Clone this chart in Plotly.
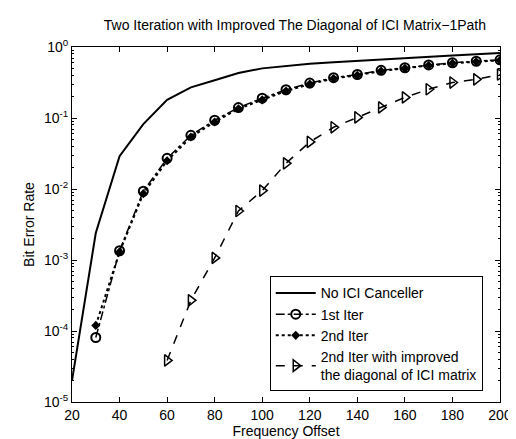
import plotly.graph_objects as go

x_none = [20, 30, 40, 50, 60, 70, 80, 90, 100, 110, 120, 130, 140, 150, 160, 170, 180, 190, 200]
ber_none = [2.0e-5, 2.4e-3, 2.9e-2, 8.2e-2, 0.18, 0.27, 0.34, 0.43, 0.50, 0.54, 0.58, 0.61, 0.64, 0.67, 0.70, 0.73, 0.76, 0.79, 0.82]

x_iter = [30, 40, 50, 60, 70, 80, 90, 100, 110, 120, 130, 140, 150, 160, 170, 180, 190, 200]
ber_1st = [8.1e-5, 1.35e-3, 9.3e-3, 2.7e-2, 0.057, 0.093, 0.14, 0.19, 0.25, 0.31, 0.37, 0.41, 0.47, 0.51, 0.56, 0.60, 0.63, 0.66]
ber_2nd = [1.2e-4, 1.3e-3, 8.6e-3, 2.5e-2, 0.054, 0.088, 0.135, 0.18, 0.24, 0.30, 0.36, 0.40, 0.46, 0.50, 0.55, 0.59, 0.62, 0.65]

x_impr = [60, 70, 80, 90, 100, 110, 120, 130, 140, 150, 160, 170, 180, 190, 200]
ber_impr = [3.85e-5, 2.7e-4, 1.07e-3, 4.9e-3, 9.5e-3, 2.3e-2, 4.6e-2, 7.4e-2, 0.102, 0.141, 0.195, 0.254, 0.316, 0.35, 0.41]

x_ticks = [20, 40, 60, 80, 100, 120, 140, 160, 180, 200]
y_ticks = [1e-5, 1e-4, 1e-3, 1e-2, 1e-1, 1]
y_ticktext = ["10<sup>-5</sup>", "10<sup>-4</sup>", "10<sup>-3</sup>", "10<sup>-2</sup>", "10<sup>-1</sup>", "10<sup>0</sup>"]
y_minor = [m * 10.0 ** e for e in range(-5, 0) for m in range(2, 10)]

names = ["No ICI Canceller", "1st Iter", "2nd Iter",
         "2nd Iter with improved<br>the diagonal of ICI matrix"]

fig = go.Figure()
fig.add_trace(go.Scatter(x=x_none, y=ber_none, mode="lines", name=names[0],
                         line=dict(color="black", width=2)))
fig.add_trace(go.Scatter(x=x_iter, y=ber_1st, mode="lines+markers", name=names[1],
                         line=dict(color="black", width=1.5, dash="dashdot"),
                         marker=dict(symbol="circle-open", size=9, color="black", line=dict(width=2))))
fig.add_trace(go.Scatter(x=x_iter, y=ber_2nd, mode="lines+markers", name=names[2],
                         line=dict(color="black", width=2, dash="dot"),
                         marker=dict(symbol="diamond", size=7, color="black")))
fig.add_trace(go.Scatter(x=x_impr, y=ber_impr, mode="lines+markers", name=names[3],
                         line=dict(color="black", width=1.5, dash="dash"),
                         marker=dict(symbol="triangle-right-open", size=10, color="black", line=dict(width=1.5))))

axis_common = dict(showline=True, linecolor="black", linewidth=1, mirror="ticks",
                   ticks="inside", ticklen=5, tickcolor="black", showgrid=False,
                   zeroline=False, tickfont=dict(size=14, color="black"))

fig.update_xaxes(range=[20, 200], tickvals=x_ticks, **axis_common,
                 title=dict(text="Frequency Offset", font=dict(size=14, color="black"), standoff=2))
fig.update_yaxes(type="log", range=[-5, 0], tickvals=y_ticks, ticktext=y_ticktext, **axis_common,
                 minor=dict(tickmode="array", tickvals=y_minor, ticks="inside", ticklen=2,
                            tickcolor="black", showgrid=False),
                 title=dict(text="Bit Error Rate", font=dict(size=14, color="black"), standoff=6))

fig.update_layout(
    width=516, height=439,
    margin=dict(l=64, r=13, t=39, b=41),
    paper_bgcolor="white", plot_bgcolor="white",
    font=dict(family="Liberation Sans, Arial, sans-serif", color="black"),
    title=dict(text="Two Iteration with Improved The Diagonal of ICI Matrix\u22121Path",
               x=0.556, xanchor="center", y=0.96, yanchor="middle",
               font=dict(size=14, color="black")),
    legend=dict(x=0.462, y=0.03, xanchor="left", yanchor="bottom",
                bgcolor="white", bordercolor="black", borderwidth=1,
                font=dict(size=14, color="black"), tracegroupgap=0, itemwidth=40),
    showlegend=True,
)

fig.write_html("out.html")
